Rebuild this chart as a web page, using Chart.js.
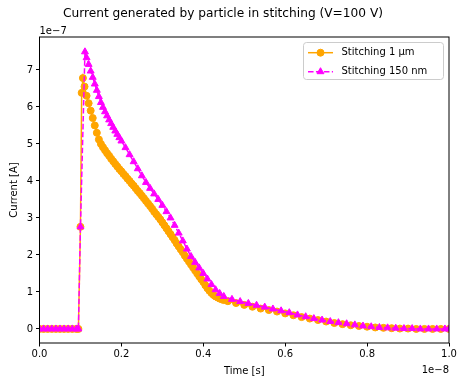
<!DOCTYPE html>
<html>
<head>
<meta charset="utf-8">
<script src="https://cdn.jsdelivr.net/npm/chart.js@4.4.1/dist/chart.umd.min.js"></script>
<style>
  html, body { margin: 0; padding: 0; background: #fff; }
  #wrap { width: 461px; height: 379px; }
</style>
</head>
<body>
<div id="wrap"><canvas id="chart" width="461" height="379"></canvas></div>
<script>
// time in units of 1e-8 s, current in units of 1e-7 A
const timeOrange = [0, 0.01, 0.02, 0.03, 0.04, 0.05, 0.06, 0.07, 0.08, 0.09, 0.095, 0.1, 0.103, 0.106,
    0.11, 0.115, 0.12, 0.125, 0.13, 0.135, 0.14, 0.145, 0.15, 0.155, 0.16, 0.165, 0.17, 0.175, 0.18,
    0.185, 0.19, 0.195, 0.2, 0.205, 0.21, 0.215, 0.22, 0.225, 0.23, 0.235, 0.24, 0.245, 0.25, 0.255,
    0.26, 0.265, 0.27, 0.275, 0.28, 0.285, 0.29, 0.295, 0.3, 0.305, 0.31, 0.315, 0.32, 0.325, 0.33,
    0.335, 0.34, 0.345, 0.35, 0.355, 0.36, 0.365, 0.37, 0.375, 0.38, 0.385, 0.39, 0.395, 0.4, 0.405,
    0.41, 0.415, 0.42, 0.425, 0.43, 0.435, 0.44, 0.445, 0.45, 0.46, 0.48, 0.5, 0.52, 0.54, 0.56, 0.58,
    0.6, 0.62, 0.64, 0.66, 0.68, 0.7, 0.72, 0.74, 0.76, 0.78, 0.8, 0.82, 0.84, 0.86, 0.88, 0.9, 0.92,
    0.94, 0.96, 0.98, 1.0];
const currentOrange = [0, 0, 0, 0, 0, 0, 0, 0, 0, 0, 0, 2.76, 6.38, 6.78,
    6.55, 6.3, 6.1, 5.9, 5.7, 5.5, 5.3, 5.12, 5.0, 4.91, 4.83, 4.75, 4.68, 4.6, 4.53,
    4.46, 4.39, 4.32, 4.26, 4.19, 4.13, 4.06, 4.0, 3.93, 3.87, 3.8, 3.73, 3.67, 3.6, 3.53,
    3.46, 3.39, 3.32, 3.25, 3.17, 3.1, 3.03, 2.96, 2.88, 2.8, 2.72, 2.64, 2.56, 2.48, 2.4,
    2.31, 2.23, 2.15, 2.07, 1.98, 1.9, 1.82, 1.74, 1.66, 1.58, 1.5, 1.42, 1.34, 1.27, 1.18,
    1.1, 1.03, 0.97, 0.92, 0.88, 0.85, 0.82, 0.8, 0.78, 0.75, 0.7, 0.65, 0.6, 0.55, 0.51, 0.47,
    0.42, 0.37, 0.32, 0.28, 0.24, 0.2, 0.16, 0.13, 0.1, 0.08, 0.06, 0.04, 0.03, 0.02, 0.01, 0.01, 0,
    0, 0, 0, 0];

const timeMagenta = [0, 0.01, 0.02, 0.03, 0.04, 0.05, 0.06, 0.07, 0.08, 0.09, 0.095, 0.1, 0.111,
    0.115, 0.12, 0.125, 0.13, 0.135, 0.14, 0.145, 0.15, 0.155, 0.16, 0.165, 0.17, 0.175, 0.18, 0.185,
    0.19, 0.195, 0.2, 0.21, 0.22, 0.23, 0.24, 0.25, 0.26, 0.27, 0.28, 0.29, 0.3, 0.31, 0.32, 0.33,
    0.34, 0.35, 0.36, 0.37, 0.38, 0.39, 0.4, 0.41, 0.42, 0.43, 0.44, 0.45, 0.47, 0.49, 0.51, 0.53,
    0.55, 0.57, 0.59, 0.61, 0.63, 0.65, 0.67, 0.69, 0.71, 0.73, 0.75, 0.77, 0.79, 0.81, 0.83, 0.85,
    0.87, 0.89, 0.91, 0.93, 0.95, 0.97, 0.99, 1.0];
const currentMagenta = [0, 0, 0, 0, 0, 0, 0, 0, 0, 0, 0, 2.76, 7.49,
    7.33, 7.15, 6.97, 6.8, 6.62, 6.45, 6.28, 6.12, 5.99, 5.87, 5.76, 5.65, 5.55, 5.45, 5.35,
    5.26, 5.17, 5.08, 4.9, 4.71, 4.52, 4.33, 4.14, 3.96, 3.8, 3.65, 3.5, 3.34, 3.17, 3.0, 2.8,
    2.59, 2.38, 2.16, 1.96, 1.8, 1.65, 1.5, 1.35, 1.2, 1.06, 0.96, 0.88, 0.8, 0.74, 0.69, 0.64,
    0.59, 0.54, 0.49, 0.44, 0.38, 0.33, 0.28, 0.24, 0.2, 0.17, 0.14, 0.11, 0.08, 0.06, 0.04, 0.03,
    0.02, 0.01, 0.01, 0, 0, 0, 0, 0];

const seriesNames = ['Stitching 1 µm', 'Stitching 150 nm'];
const xTicks = [0, 0.2, 0.4, 0.6, 0.8, 1.0];
const yTicks = [0, 1, 2, 3, 4, 5, 6, 7];

const ORANGE = '#ffa500';
const MAGENTA = '#ff00ff';
const DASH = [5.55, 2.4];
const FONT = "'DejaVu Sans', sans-serif";

Chart.defaults.font.family = FONT;
Chart.defaults.color = '#000';

function toPoints(xs, ys) {
    return xs.map((x, i) => ({ x: x, y: ys[i] }));
}

// texts + frame + legend, drawn the matplotlib way
const decor = {
    id: 'decor',
    afterDatasetsDraw(chart) {
        const ctx = chart.ctx;
        const a = chart.chartArea;
        ctx.save();
        ctx.strokeStyle = '#000';
        ctx.lineWidth = 1;
        ctx.strokeRect(a.left, a.top, a.right - a.left, a.bottom - a.top);

        // legend
        const lx = 303.5, ly = 42.5, lw = 140, lh = 37;
        ctx.fillStyle = 'rgba(255,255,255,0.8)';
        ctx.strokeStyle = '#cccccc';
        ctx.beginPath();
        ctx.roundRect(lx, ly, lw, lh, 3);
        ctx.fill();
        ctx.stroke();

        const rows = [
            { y: 52.7, color: ORANGE, dash: [], style: 'circle', r: 3.5 },
            { y: 71.7, color: MAGENTA, dash: DASH, style: 'triangle', r: 4 }
        ];
        rows.forEach((row, i) => {
            ctx.strokeStyle = row.color;
            ctx.lineWidth = 1.5;
            ctx.setLineDash(row.dash);
            ctx.beginPath();
            ctx.moveTo(308, row.y);
            ctx.lineTo(333, row.y);
            ctx.stroke();
            ctx.setLineDash([]);
            ctx.fillStyle = row.color;
            ctx.strokeStyle = row.color;
            ctx.lineWidth = 1;
            Chart.helpers.drawPoint(ctx, { pointStyle: row.style, radius: row.r, rotation: 0, borderWidth: 1 }, 320.5, row.y);
            ctx.fillStyle = '#000';
            ctx.font = '10px ' + FONT;
            ctx.textAlign = 'left';
            ctx.textBaseline = 'middle';
            ctx.fillText(seriesNames[i], 341.5, row.y);
        });

        // title and labels
        ctx.fillStyle = '#000';
        ctx.font = '12.2px ' + FONT;
        ctx.textAlign = 'center';
        ctx.textBaseline = 'middle';
        ctx.fillText('Current generated by particle in stitching (V=100 V)', 223, 14);

        ctx.font = '10px ' + FONT;
        ctx.fillText('Time [s]', (a.left + a.right) / 2, 371);
        ctx.textAlign = 'left';
        ctx.textBaseline = 'alphabetic';
        ctx.fillText('1e\u22127', a.left, 34);
        ctx.textAlign = 'right';
        ctx.textBaseline = 'top';
        ctx.fillText('1e\u22128', a.right, 365);

        ctx.translate(14, (a.top + a.bottom) / 2);
        ctx.rotate(-Math.PI / 2);
        ctx.textAlign = 'center';
        ctx.textBaseline = 'middle';
        ctx.fillText('Current [A]', 0, 0);
        ctx.restore();
    }
};

new Chart(document.getElementById('chart').getContext('2d'), {
    type: 'scatter',
    data: {
        datasets: [
            {
                label: seriesNames[0],
                data: toPoints(timeOrange, currentOrange),
                showLine: true,
                borderColor: ORANGE,
                backgroundColor: ORANGE,
                borderWidth: 1.5,
                pointStyle: 'circle',
                pointRadius: 3.5,
                pointBorderWidth: 1,
                pointBorderColor: ORANGE,
                pointBackgroundColor: ORANGE,
                clip: 0,
                order: 1
            },
            {
                label: seriesNames[1],
                data: toPoints(timeMagenta, currentMagenta),
                showLine: true,
                borderColor: MAGENTA,
                backgroundColor: MAGENTA,
                borderWidth: 1.5,
                borderDash: DASH,
                pointStyle: 'triangle',
                pointRadius: 4,
                pointBorderWidth: 1,
                pointBorderColor: MAGENTA,
                pointBackgroundColor: MAGENTA,
                clip: 0,
                order: 0
            }
        ]
    },
    options: {
        responsive: false,
        animation: false,
        devicePixelRatio: 1,
        layout: { padding: { top: 37, right: 12, left: 0, bottom: 0 } },
        plugins: {
            legend: { display: false },
            tooltip: { enabled: false },
            title: { display: false }
        },
        scales: {
            x: {
                type: 'linear',
                min: 0,
                max: 1,
                afterBuildTicks: s => { s.ticks = xTicks.map(v => ({ value: v })); },
                afterFit: s => { s.height = 36; },
                ticks: {
                    callback: v => v.toFixed(1),
                    font: { size: 10 },
                    padding: 2,
                    maxRotation: 0,
                    autoSkip: false
                },
                grid: { drawOnChartArea: false, drawTicks: true, tickLength: 3.5, color: '#000', lineWidth: 1 },
                border: { display: false }
            },
            y: {
                type: 'linear',
                min: -0.38,
                max: 7.89,
                afterBuildTicks: s => { s.ticks = yTicks.map(v => ({ value: v })); },
                afterFit: s => { s.width = 39.5; },
                ticks: {
                    callback: v => String(v),
                    font: { size: 10 },
                    padding: 3,
                    autoSkip: false
                },
                grid: { drawOnChartArea: false, drawTicks: true, tickLength: 3.5, color: '#000', lineWidth: 1 },
                border: { display: false }
            }
        }
    },
    plugins: [decor]
});
</script>
</body>
</html>
